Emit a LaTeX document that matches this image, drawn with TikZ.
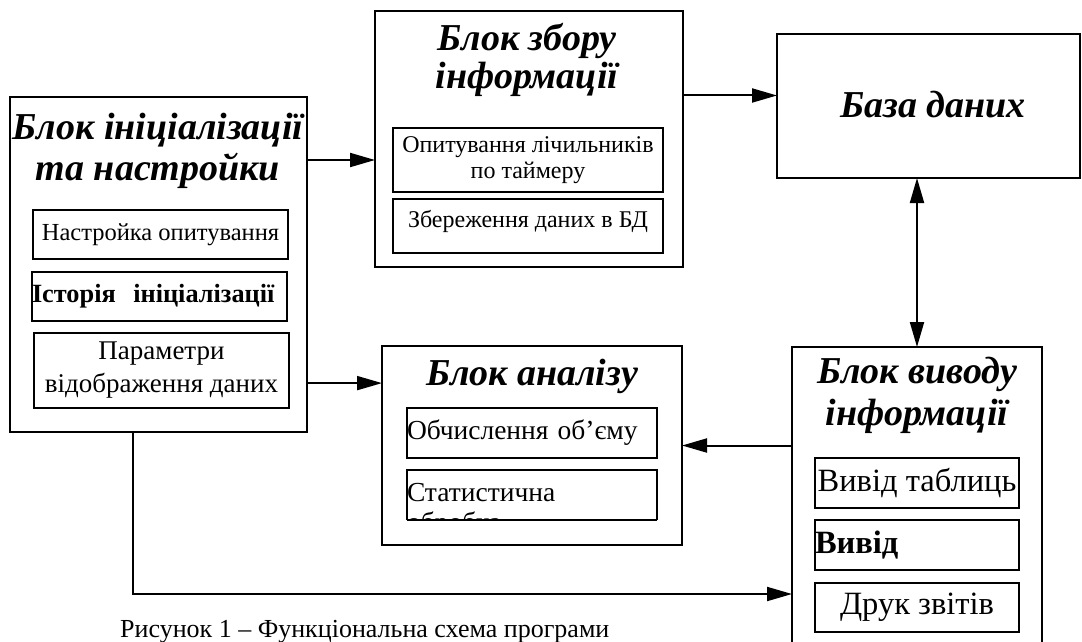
\documentclass[tikz,border=0pt]{standalone}
\usepackage{fontspec}
\setmainfont{Liberation Serif}
\usepackage{tikz}
\usetikzlibrary{arrows, arrows.meta, positioning, calc}
\tikzstyle{block} = [rectangle, anchor=north west, draw=black, line width=2pt, inner sep=0pt, outer sep=0pt]
\tikzstyle{head} = [align=center, inner sep=0pt, anchor=base, font=\fontsize{38}{41}\selectfont\bfseries\itshape]
\tikzstyle{item} = [rectangle, anchor=north west, draw=black, line width=1.6pt, inner sep=0pt, outer sep=0pt, align=center, font=\fontsize{24.5}{28}\selectfont]
\tikzstyle{arrow} = [->,>={Triangle[length=25pt,width=14pt]}, line width=2pt]

\begin{document}
\begin{tikzpicture}[x=1pt, y=-1pt]
	\useasboundingbox (0,0) rectangle (1082,641);
	\clip (0,0) rectangle (1082,641);
	% blocks
	\node (init) [block, minimum width=297, minimum height=335] at (10,97) {};
	\node (collect) [block, minimum width=308, minimum height=256] at (375,11) {};
	\node (db) [block, minimum width=303, minimum height=144] at (777,34) {};
	\node (analysis) [block, minimum width=300, minimum height=199] at (382,346) {};
	\node (output) [block, minimum width=250, minimum height=320] at (792,347) {};
	
	\node (inittitle) [head] at (158,180) {Блок ініціалізації\\та настройки};
	\node (collecttitle) [head, font=\fontsize{38}{38}\selectfont\bfseries\itshape] at (527,88) {Блок збору\\інформації};
	\node (dbtitle) [head] at (933,117) {База даних};
	\node (analysistitle) [head] at (532,385) {Блок аналізу};
	\node (outputtitle) [head, font=\fontsize{38}{42}\selectfont\bfseries\itshape] at (917,425) {Блок виводу\\інформації};
	
	% init block
	\node (setup) [item, minimum width=255, minimum height=49] at (33,210) {Настройка опитування};
	\node (history) [item, minimum height=49, text width=255, align=left, font=\fontsize{26.3}{28}\selectfont\bfseries] at (32,272) {Історія~ ініціалізації};
	\node (params) [item, minimum width=255, minimum height=75, font=\fontsize{27}{33}\selectfont] at (34,333) {Параметри\\відображення даних};
	% collect block
	\node (poll) [item, minimum width=270, minimum height=64, font=\fontsize{24}{26}\selectfont] at (393,128) {Опитування лічильників\\по таймеру};
	\node (store) [item, minimum width=270, minimum height=54, text depth=14pt, font=\fontsize{24}{28}\selectfont] at (393,199) {Збереження даних в БД};
	% analysis block
	\node (volume) [item, minimum height=50, text width=250, align=left, font=\fontsize{27.5}{30}\selectfont] at (407,408) {Обчислення об’єму};
	\begin{scope}
		\clip (406,469) rectangle (658,519.5);
		\node (stats) [item, minimum width=250, minimum height=50, font=\fontsize{27.5}{30}\selectfont] at (407,470) {\parbox[t][24pt][t]{250pt}{Статистична\\обробка}};
	\end{scope}
	\draw [line width=1.6pt] (stats.south west) -- (stats.south east);
	% output block
	\node (tables) [item, minimum width=204, minimum height=50, font=\fontsize{32.5}{34}\selectfont] at (815,458) {Вивід таблиць};
	\node (showout) [item, minimum height=50, text width=204, align=left, font=\fontsize{32.5}{34}\selectfont\bfseries] at (815,520) {Вивід};
	\node (reports) [item, minimum width=204, minimum height=49, font=\fontsize{32.5}{34}\selectfont] at (815,583) {Друк звітів};
	
	\node (caption) [anchor=north west, inner sep=0pt, font=\fontsize{26}{30}\selectfont] at (120,620) {Рисунок 1 – Функціональна схема програми};
	
	\coordinate (turn) at (133,594);
	\draw [arrow](init.east |- poll) -- (collect.west |- poll);
	\draw [arrow]($(collect.north east)!0.33!(collect.south east)$) coordinate (tobase) -- (tobase -| db.west);
	\draw [arrow]($(init.north east)!0.854!(init.south east)$) coordinate (toanalysis) -- (toanalysis -| analysis.west);
	\draw [arrow](output.west |- analysis) -- (analysis.east);
	\draw [arrow, <->](output.north |- db.south) -- (output.north);
	\draw [arrow](init.south -| turn) |- (turn -| output.west);
\end{tikzpicture}
\end{document}
